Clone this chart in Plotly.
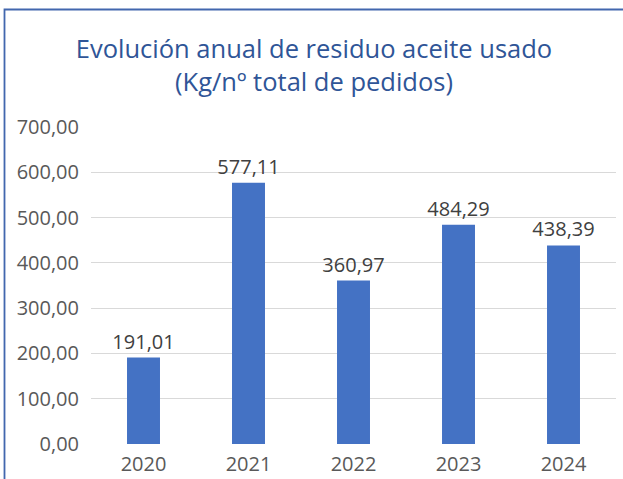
import plotly.graph_objects as go

years = ["2020", "2021", "2022", "2023", "2024"]
values = [191.01, 577.11, 360.97, 484.29, 438.39]
y_ticks = [0, 100, 200, 300, 400, 500, 600, 700]
title_lines = ["Evolución anual de residuo aceite usado", "(Kg/nº total de pedidos)"]

W, H = 623, 479
L, R, T, B = 91, 7, 127, 35
pw = W - L - R
ph = H - T - B

def fmt(v):
    return f"{v:.2f}".replace(".", ",")

fig = go.Figure()
fig.add_trace(go.Bar(
    x=years, y=values,
    marker=dict(color="#4472C4", line=dict(width=0)),
    width=0.314,
    text=[fmt(v) for v in values],
    textposition="outside",
    constraintext="none",
    textfont=dict(family="Open Sans", size=20, color="#404040"),
    cliponaxis=False,
    hoverinfo="skip",
))

# chart frame (blue border)
fig.add_shape(
    type="rect", xref="paper", yref="paper",
    x0=(4.5 - L) / pw, x1=(W + 20 - L) / pw,
    y0=-(B + 20) / ph, y1=(ph + T - 9.5) / ph,
    line=dict(color="#4267AE", width=1.8), fillcolor="rgba(0,0,0,0)", layer="above",
)

fig.update_layout(
    width=W, height=H,
    margin=dict(l=L, r=R, t=T, b=B, pad=0, autoexpand=False),
    paper_bgcolor="white", plot_bgcolor="white",
    showlegend=False,
    title=dict(
        text="<br>".join(title_lines),
        x=314 / W, xanchor="center", xref="container",
        y=1 - 58 / H, yanchor="top", yref="container",
        font=dict(family="Open Sans", size=25.5, color="#2F5597"),
    ),
    xaxis=dict(
        type="category", range=[-0.5, 4.5], automargin=False,
        showgrid=False, showline=False, zeroline=False,
        ticks="outside", ticklen=2, tickcolor="rgba(0,0,0,0)",
        tickfont=dict(family="Open Sans", size=20, color="#595959"),
        fixedrange=True,
    ),
    yaxis=dict(
        range=[0, 700], tickvals=y_ticks, automargin=False,
        ticktext=[fmt(v) for v in y_ticks],
        showgrid=True, gridcolor="#D9D9D9", gridwidth=1.2,
        zeroline=False, showline=False,
        ticks="outside", ticklen=7, tickcolor="rgba(0,0,0,0)",
        tickfont=dict(family="Open Sans", size=20, color="#595959"),
        fixedrange=True,
    ),
)

fig.write_html(
    "out.html",
    config={"displayModeBar": False, "staticPlot": True},
    post_script="document.body.style.margin='0';document.body.style.padding='0';",
)
